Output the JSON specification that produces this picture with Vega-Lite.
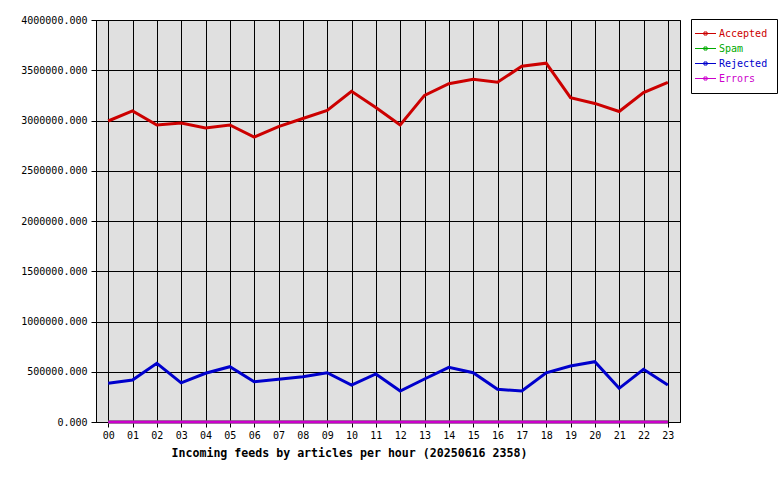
{
  "$schema": "https://vega.github.io/schema/vega-lite/v6.json",
  "autosize": {"type": "none"},
  "padding": {"left": 96, "top": 20, "right": 100, "bottom": 58},
  "width": 584,
  "height": 402,
  "background": "white",
  "config": {
    "view": {"fill": "#e0e0e0", "stroke": "black", "strokeWidth": 1},
    "font": "DejaVu Sans Mono"
  },
  "datasets": {
    "feeds": [
      {"hour": "00", "series": "Accepted", "value": 2995000},
      {"hour": "01", "series": "Accepted", "value": 3095000},
      {"hour": "02", "series": "Accepted", "value": 2955000},
      {"hour": "03", "series": "Accepted", "value": 2975000},
      {"hour": "04", "series": "Accepted", "value": 2925000},
      {"hour": "05", "series": "Accepted", "value": 2955000},
      {"hour": "06", "series": "Accepted", "value": 2836000},
      {"hour": "07", "series": "Accepted", "value": 2940000},
      {"hour": "08", "series": "Accepted", "value": 3020000},
      {"hour": "09", "series": "Accepted", "value": 3100000},
      {"hour": "10", "series": "Accepted", "value": 3290000},
      {"hour": "11", "series": "Accepted", "value": 3130000},
      {"hour": "12", "series": "Accepted", "value": 2955000},
      {"hour": "13", "series": "Accepted", "value": 3250000},
      {"hour": "14", "series": "Accepted", "value": 3366000},
      {"hour": "15", "series": "Accepted", "value": 3410000},
      {"hour": "16", "series": "Accepted", "value": 3380000},
      {"hour": "17", "series": "Accepted", "value": 3540000},
      {"hour": "18", "series": "Accepted", "value": 3570000},
      {"hour": "19", "series": "Accepted", "value": 3227000},
      {"hour": "20", "series": "Accepted", "value": 3170000},
      {"hour": "21", "series": "Accepted", "value": 3090000},
      {"hour": "22", "series": "Accepted", "value": 3277000},
      {"hour": "23", "series": "Accepted", "value": 3380000},
      {"hour": "00", "series": "Spam", "value": 0},
      {"hour": "01", "series": "Spam", "value": 0},
      {"hour": "02", "series": "Spam", "value": 0},
      {"hour": "03", "series": "Spam", "value": 0},
      {"hour": "04", "series": "Spam", "value": 0},
      {"hour": "05", "series": "Spam", "value": 0},
      {"hour": "06", "series": "Spam", "value": 0},
      {"hour": "07", "series": "Spam", "value": 0},
      {"hour": "08", "series": "Spam", "value": 0},
      {"hour": "09", "series": "Spam", "value": 0},
      {"hour": "10", "series": "Spam", "value": 0},
      {"hour": "11", "series": "Spam", "value": 0},
      {"hour": "12", "series": "Spam", "value": 0},
      {"hour": "13", "series": "Spam", "value": 0},
      {"hour": "14", "series": "Spam", "value": 0},
      {"hour": "15", "series": "Spam", "value": 0},
      {"hour": "16", "series": "Spam", "value": 0},
      {"hour": "17", "series": "Spam", "value": 0},
      {"hour": "18", "series": "Spam", "value": 0},
      {"hour": "19", "series": "Spam", "value": 0},
      {"hour": "20", "series": "Spam", "value": 0},
      {"hour": "21", "series": "Spam", "value": 0},
      {"hour": "22", "series": "Spam", "value": 0},
      {"hour": "23", "series": "Spam", "value": 0},
      {"hour": "00", "series": "Rejected", "value": 385000},
      {"hour": "01", "series": "Rejected", "value": 418000},
      {"hour": "02", "series": "Rejected", "value": 584000},
      {"hour": "03", "series": "Rejected", "value": 390000},
      {"hour": "04", "series": "Rejected", "value": 485000},
      {"hour": "05", "series": "Rejected", "value": 550000},
      {"hour": "06", "series": "Rejected", "value": 400000},
      {"hour": "07", "series": "Rejected", "value": 425000},
      {"hour": "08", "series": "Rejected", "value": 450000},
      {"hour": "09", "series": "Rejected", "value": 490000},
      {"hour": "10", "series": "Rejected", "value": 368000},
      {"hour": "11", "series": "Rejected", "value": 478000},
      {"hour": "12", "series": "Rejected", "value": 308000},
      {"hour": "13", "series": "Rejected", "value": 428000},
      {"hour": "14", "series": "Rejected", "value": 544000},
      {"hour": "15", "series": "Rejected", "value": 490000},
      {"hour": "16", "series": "Rejected", "value": 325000},
      {"hour": "17", "series": "Rejected", "value": 308000},
      {"hour": "18", "series": "Rejected", "value": 490000},
      {"hour": "19", "series": "Rejected", "value": 557000},
      {"hour": "20", "series": "Rejected", "value": 600000},
      {"hour": "21", "series": "Rejected", "value": 335000},
      {"hour": "22", "series": "Rejected", "value": 524000},
      {"hour": "23", "series": "Rejected", "value": 368000},
      {"hour": "00", "series": "Errors", "value": 0},
      {"hour": "01", "series": "Errors", "value": 0},
      {"hour": "02", "series": "Errors", "value": 0},
      {"hour": "03", "series": "Errors", "value": 0},
      {"hour": "04", "series": "Errors", "value": 0},
      {"hour": "05", "series": "Errors", "value": 0},
      {"hour": "06", "series": "Errors", "value": 0},
      {"hour": "07", "series": "Errors", "value": 0},
      {"hour": "08", "series": "Errors", "value": 0},
      {"hour": "09", "series": "Errors", "value": 0},
      {"hour": "10", "series": "Errors", "value": 0},
      {"hour": "11", "series": "Errors", "value": 0},
      {"hour": "12", "series": "Errors", "value": 0},
      {"hour": "13", "series": "Errors", "value": 0},
      {"hour": "14", "series": "Errors", "value": 0},
      {"hour": "15", "series": "Errors", "value": 0},
      {"hour": "16", "series": "Errors", "value": 0},
      {"hour": "17", "series": "Errors", "value": 0},
      {"hour": "18", "series": "Errors", "value": 0},
      {"hour": "19", "series": "Errors", "value": 0},
      {"hour": "20", "series": "Errors", "value": 0},
      {"hour": "21", "series": "Errors", "value": 0},
      {"hour": "22", "series": "Errors", "value": 0},
      {"hour": "23", "series": "Errors", "value": 0}
    ]
  },
  "data": {"name": "feeds"},
  "mark": {"type": "line", "strokeWidth": 3, "strokeJoin": "miter", "strokeCap": "butt", "clip": false},
  "encoding": {
    "x": {
      "field": "hour",
      "type": "ordinal",
      "sort": null,
      "scale": {"type": "point", "padding": 0.5},
      "axis": {
        "title": "Incoming feeds by articles per hour (20250616 2358)",
        "titleFont": "DejaVu Sans Mono",
        "titleFontSize": 11.6,
        "titleFontWeight": "bold",
        "titleColor": "black",
        "titleAlign": "left",
        "titleAnchor": null,
        "titleX": 75,
        "titleY": 25,
        "titleBaseline": "top",
        "labelAngle": 0,
        "labelFont": "DejaVu Sans Mono",
        "labelFontSize": 10,
        "labelColor": "black",
        "labelPadding": 3,
        "labelBaseline": "top",
        "tickColor": "black",
        "tickSize": 5,
        "domainColor": "black",
        "grid": true,
        "gridColor": "black",
        "gridOpacity": 1,
        "gridWidth": 1
      }
    },
    "y": {
      "field": "value",
      "type": "quantitative",
      "scale": {"domain": [0, 4000000], "nice": false},
      "axis": {
        "title": null,
        "values": [0, 500000, 1000000, 1500000, 2000000, 2500000, 3000000, 3500000, 4000000],
        "format": ".3f",
        "labelFont": "DejaVu Sans Mono",
        "labelFontSize": 10,
        "labelColor": "black",
        "labelPadding": 4,
        "tickColor": "black",
        "tickSize": 5,
        "domainColor": "black",
        "grid": true,
        "gridColor": "black",
        "gridOpacity": 1,
        "gridWidth": 1
      }
    },
    "color": {
      "field": "series",
      "type": "nominal",
      "scale": {
        "domain": ["Accepted", "Spam", "Rejected", "Errors"],
        "range": ["#cc0000", "#00aa00", "#0000cc", "#cc00cc"]
      },
      "legend": {
        "title": null,
        "orient": "none",
        "legendX": 595,
        "legendY": -1,
        "direction": "vertical",
        "fillColor": "white",
        "strokeColor": "black",
        "padding": 9,
        "rowPadding": 4,
        "symbolType": "M-2.1,0H2.1M-0.3,-0.3H0.3V0.3H-0.3Z",
        "symbolSize": 100,
        "symbolStrokeWidth": 1,
        "symbolFillColor": "transparent",
        "labelOffset": 8,
        "labelFont": "DejaVu Sans Mono",
        "labelFontSize": 10,
        "labelColor": {"expr": "datum.label == 'Accepted' ? '#cc0000' : datum.label == 'Spam' ? '#00aa00' : datum.label == 'Rejected' ? '#0000cc' : '#cc00cc'"}
      }
    }
  }
}
